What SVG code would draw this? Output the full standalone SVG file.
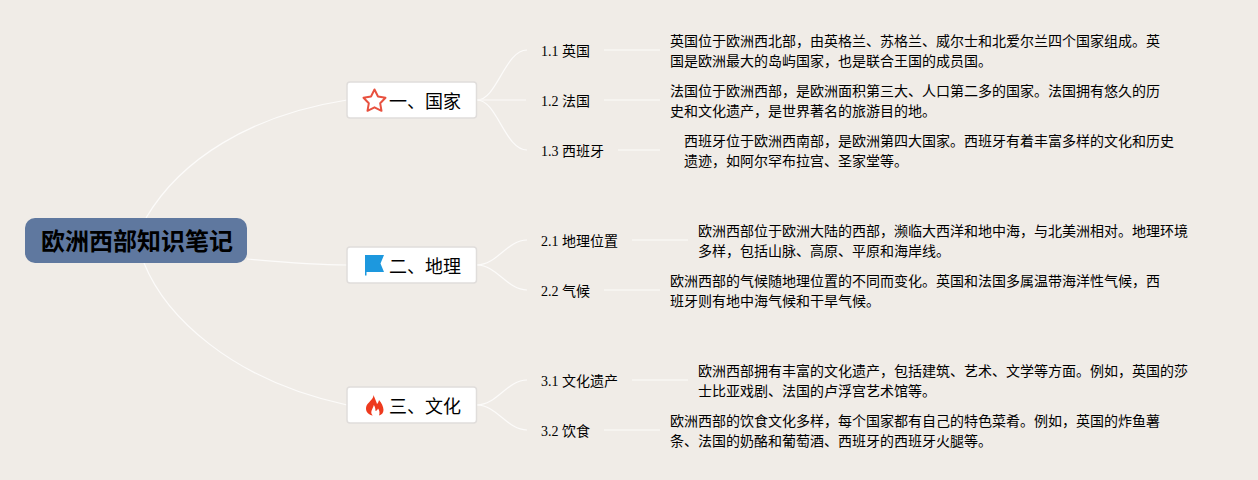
<svg xmlns="http://www.w3.org/2000/svg" width="1258" height="480" viewBox="0 0 1258 480">
<style>
text{font-family:"Liberation Serif","Noto Sans CJK SC",sans-serif;fill:#000}
.d{font-size:14px}
.s{font-size:14px}
.t{font-size:18px;font-family:"Noto Sans CJK SC",sans-serif}
.box{fill:#fff;stroke:#e0dddb;stroke-width:1.500}
#connectors path{fill:none;stroke:#fcfbfa;stroke-width:1.200}
#connectors path.stub{stroke:#f8f6f3;stroke-width:1.500}
</style>
<rect width="1258" height="480" fill="#f0ece7"/>
<g id="connectors">
<path d="M146 218C180 160 250 115 347 100"/>
<path d="M247 259C280 262 310 265 347 265"/>
<path d="M144 263C165 315 230 380 347 405"/>
<path d="M477 100C497 100 505 50 527 50"/>
<path class="stub" d="M477 100H526"/>
<path d="M477 100C497 100 505 150 527 150"/>
<path d="M477 265C497 265 507 240 527 240"/>
<path d="M477 265C497 265 507 290 527 290"/>
<path d="M477 405C497 405 507 380 527 380"/>
<path d="M477 405C497 405 507 430 527 430"/>
<path class="stub" d="M604 50H660M604 100H660M618 150H660M632 240H688M604 290H660M632 380H688M604 430H660"/>
</g>
<g id="root"><rect x="25" y="218" width="222" height="45" rx="10" fill="#5f789f"/><text x="41" y="250" font-size="24" font-weight="700" style="font-family:'Noto Sans CJK SC',sans-serif">欧洲西部知识笔记</text></g>
<g id="n1"><rect class="box" x="347" y="82" width="129.500" height="36" rx="3"/>
<path d="M374.500 89.500L378 96.500L385.500 97.800L380.200 103.300L381.500 110.800L374.500 107.300L367.500 110.800L368.800 103.300L363.500 97.800L371 96.500Z" fill="none" stroke="#e8513f" stroke-width="2" stroke-linejoin="round"/>
<text class="t" x="389" y="108">一、国家</text></g>
<g id="n2"><rect class="box" x="347" y="247" width="129.500" height="36" rx="3"/>
<path d="M365 255H384L380.500 263.500L384 272H366.500V275.500H365Z" fill="#1d98de"/>
<text class="t" x="389" y="273">二、地理</text></g>
<g id="n3"><rect class="box" x="347" y="387" width="129.500" height="36" rx="3"/>
<path d="M373.500 395C375 399 376.500 402 377 404C378 403 378.800 401.500 379 400C381.500 403 383.500 406.500 383.500 410C383.500 413 381.500 415 379 415.500C380 413 379.500 410.500 378 408.500C377.500 410 376.500 411 375.500 411C375.500 409 375 406.500 373.800 405C373.500 407.500 371.500 409.500 371.300 412C371.200 413.500 371.800 414.800 372.800 415.500C369 415 366 412.500 366 408.500C366 404 370 402 372 399C373 397.800 373.500 396.500 373.500 395Z" fill="#ee3a1e"/>
<text class="t" x="389" y="413">三、文化</text></g>
<g id="s11"><text class="s" x="541" y="56">1.1 英国</text></g>
<g id="s12"><text class="s" x="541" y="106">1.2 法国</text></g>
<g id="s13"><text class="s" x="541" y="156">1.3 西班牙</text></g>
<g id="s21"><text class="s" x="541" y="246">2.1 地理位置</text></g>
<g id="s22"><text class="s" x="541" y="296">2.2 气候</text></g>
<g id="s31"><text class="s" x="541" y="386">3.1 文化遗产</text></g>
<g id="s32"><text class="s" x="541" y="436">3.2 饮食</text></g>
<g id="d11"><text class="d" x="670" y="46">英国位于欧洲西北部，由英格兰、苏格兰、威尔士和北爱尔兰四个国家组成。英</text><text class="d" x="670" y="66">国是欧洲最大的岛屿国家，也是联合王国的成员国。</text></g>
<g id="d12"><text class="d" x="670" y="96">法国位于欧洲西部，是欧洲面积第三大、人口第二多的国家。法国拥有悠久的历</text><text class="d" x="670" y="116">史和文化遗产，是世界著名的旅游目的地。</text></g>
<g id="d13"><text class="d" x="684" y="146">西班牙位于欧洲西南部，是欧洲第四大国家。西班牙有着丰富多样的文化和历史</text><text class="d" x="684" y="166">遗迹，如阿尔罕布拉宫、圣家堂等。</text></g>
<g id="d21"><text class="d" x="698" y="236">欧洲西部位于欧洲大陆的西部，濒临大西洋和地中海，与北美洲相对。地理环境</text><text class="d" x="698" y="256">多样，包括山脉、高原、平原和海岸线。</text></g>
<g id="d22"><text class="d" x="670" y="286">欧洲西部的气候随地理位置的不同而变化。英国和法国多属温带海洋性气候，西</text><text class="d" x="670" y="306">班牙则有地中海气候和干旱气候。</text></g>
<g id="d31"><text class="d" x="698" y="376">欧洲西部拥有丰富的文化遗产，包括建筑、艺术、文学等方面。例如，英国的莎</text><text class="d" x="698" y="396">士比亚戏剧、法国的卢浮宫艺术馆等。</text></g>
<g id="d32"><text class="d" x="670" y="426">欧洲西部的饮食文化多样，每个国家都有自己的特色菜肴。例如，英国的炸鱼薯</text><text class="d" x="670" y="446">条、法国的奶酪和葡萄酒、西班牙的西班牙火腿等。</text></g>
</svg>
